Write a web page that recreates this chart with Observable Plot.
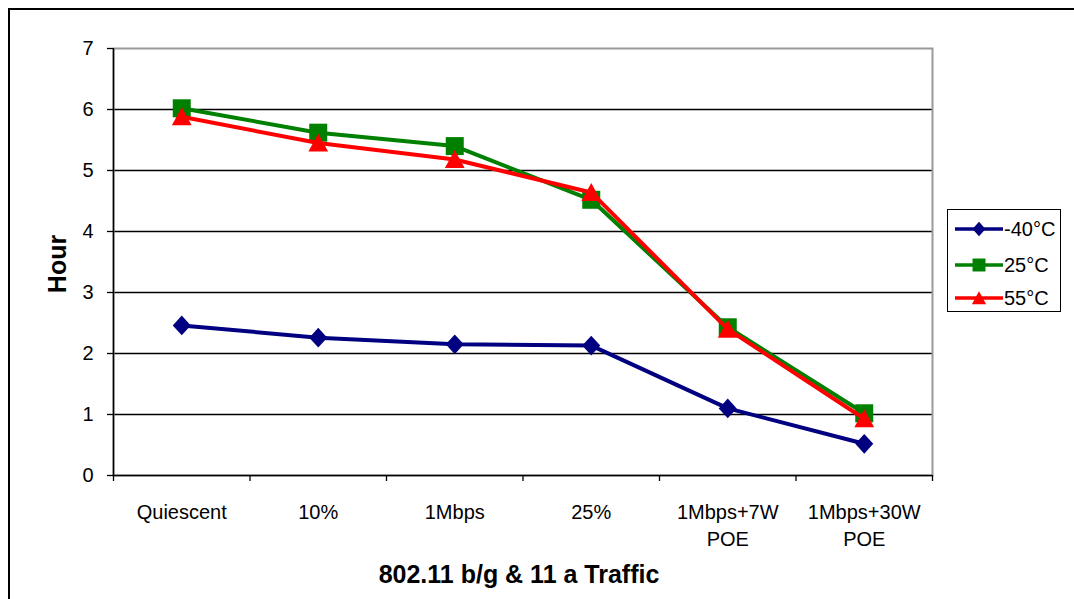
<!DOCTYPE html>
<html>
<head>
<meta charset="utf-8">
<script src="https://cdn.jsdelivr.net/npm/d3@7"></script>
<script src="https://cdn.jsdelivr.net/npm/@observablehq/plot@0.6"></script>
<style>
  html, body { margin: 0; padding: 0; background: #fff; }
  #wrap { position: relative; width: 1074px; height: 599px; overflow: hidden; background: #fff;
          font-family: "Liberation Sans", Arial, sans-serif; }
  #chart { position: absolute; left: 0; top: 0; }
  #frame { position: absolute; left: 8px; top: 8px; width: 1200px; height: 800px;
           border: 2px solid #000; pointer-events: none; }
  .title { position: absolute; font-weight: bold; font-size: 25px; line-height: 25px; color: #000; white-space: nowrap; }
  #xtitle { left: 519px; top: 562px; transform: translateX(-50%); }
  #ytitle { left: 57px; top: 264px; transform: translate(-50%, -50%) rotate(-90deg); }
  #legend { position: absolute; left: 947px; top: 209px; width: 112px; height: 101px;
            border: 1px solid #000; background: #fff; }
  .item { position: absolute; left: 6px; height: 24px; display: flex; align-items: center;
          font-size: 20px; color: #000; }
</style>
</head>
<body>
<div id="wrap">
  <div id="chart"></div>
  <div id="frame"></div>
  <div class="title" id="ytitle">Hour</div>
  <div class="title" id="xtitle">802.11 b/g &amp; 11 a Traffic</div>
  <div id="legend"></div>
</div>
<script>
// ---- data ----
const categories = ["Quiescent", "10%", "1Mbps", "25%", "1Mbps+7W\nPOE", "1Mbps+30W\nPOE"];
const seriesNames = ["-40°C", "25°C", "55°C"];
const valuesMinus40 = [2.46, 2.26, 2.15, 2.13, 1.10, 0.52];
const values25 = [6.02, 5.62, 5.40, 4.52, 2.43, 1.02];
const values55 = [5.88, 5.45, 5.18, 4.64, 2.40, 0.93];
const yTicks = [0, 1, 2, 3, 4, 5, 6, 7];
const seriesColors = ["#000080", "#008000", "#ff0000"];

// ---- symbols (Excel-like markers, centered on bbox) ----
const diamond = {draw(ctx, size) { const r = Math.sqrt(size / Math.PI);
  ctx.moveTo(0, -r * 1.1); ctx.lineTo(r, 0); ctx.lineTo(0, r * 1.1); ctx.lineTo(-r, 0); ctx.closePath(); }};
const square = {draw(ctx, size) { const r = Math.sqrt(size / Math.PI);
  ctx.rect(-r, -r, 2 * r, 2 * r); }};
const triangle = {draw(ctx, size) { const r = Math.sqrt(size / Math.PI);
  ctx.moveTo(0, -r * 1.05); ctx.lineTo(r * 1.1, r * 0.95); ctx.lineTo(-r * 1.1, r * 0.95); ctx.closePath(); }};
const seriesSymbols = [diamond, square, triangle];

const seriesValues = [valuesMinus40, values25, values55];
const series = seriesNames.map((name, s) => ({
  name, color: seriesColors[s], symbol: seriesSymbols[s],
  rows: seriesValues[s].map((v, i) => ({i, v, name}))
}));

const boundaries = d3.range(categories.length + 1).map(i => i - 0.5);
const font = "Liberation Sans, Arial, sans-serif";

const marks = [
  Plot.gridY(yTicks.filter(t => t > 0 && t < 7), {stroke: "#000", strokeOpacity: 1, strokeWidth: 1.3}),
  Plot.frame({stroke: "#9a9a9a", strokeWidth: 2}),
  Plot.axisY(yTicks, {anchor: "left", tickSize: 6, tickPadding: 14, tickFormat: d => String(d), fontSize: 20, fontFamily: font, label: null, stroke: "#000", strokeWidth: 1.3}),
  Plot.axisX(boundaries, {anchor: "bottom", tickSize: 6, tickFormat: () => "", label: null, stroke: "#000", strokeWidth: 1.3}),
  Plot.axisX(d3.range(categories.length), {anchor: "bottom", tickSize: 0, tickPadding: 24,
    tickFormat: i => categories[i], lineHeight: 1.35, fontSize: 20, fontFamily: font, label: null}),
  Plot.ruleX([boundaries[0]], {stroke: "#000", strokeWidth: 1.5}),
  Plot.ruleY([0], {stroke: "#000", strokeWidth: 1.5})
];
for (const s of series) {
  marks.push(Plot.line(s.rows, {x: "i", y: "v", stroke: s.color, strokeWidth: 4}));
  marks.push(Plot.dot(s.rows, {x: "i", y: "v", symbol: () => s.symbol, r: 9, fill: s.color, stroke: "none"}));
}

const chart = Plot.plot({
  width: 1074, height: 599,
  marginLeft: 113, marginRight: 142, marginTop: 48, marginBottom: 124,
  style: {background: "transparent", fontFamily: font, fontSize: "20px", color: "#000"},
  x: {type: "linear", domain: [boundaries[0], boundaries[boundaries.length - 1]], axis: null},
  y: {domain: [yTicks[0], yTicks[yTicks.length - 1]], axis: null},
  symbol: {type: "identity"},
  marks
});
document.getElementById("chart").appendChild(chart);

// ---- legend ----
const legend = document.getElementById("legend");
const tops = [7, 43, 76];
series.forEach((s, k) => {
  const item = document.createElement("div");
  item.className = "item";
  item.style.top = tops[k] + "px";
  const svg = d3.create("svg").attr("width", 50).attr("height", 24);
  svg.append("line").attr("x1", 1).attr("x2", 49).attr("y1", 12).attr("y2", 12)
     .attr("stroke", s.color).attr("stroke-width", 3.5);
  svg.append("path").attr("transform", "translate(25,12)")
     .attr("d", d3.symbol(s.symbol, Math.PI * 42)()).attr("fill", s.color);
  item.appendChild(svg.node());
  const t = document.createElement("span");
  t.textContent = s.name;
  item.appendChild(t);
  legend.appendChild(item);
});
</script>
</body>
</html>
